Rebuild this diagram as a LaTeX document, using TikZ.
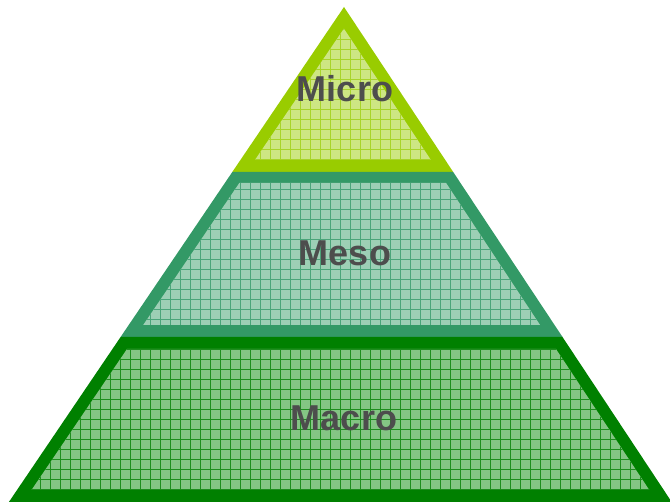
\documentclass[tikz,border=0pt]{standalone}
\usepackage{fontspec}
\setmainfont{Liberation Sans}
\definecolor{microB}{HTML}{99CC00}
\definecolor{microF}{HTML}{CDE683}
\definecolor{microG}{HTML}{A8D42A}
\definecolor{mesoB}{HTML}{339966}
\definecolor{mesoF}{HTML}{9DCFB5}
\definecolor{mesoG}{HTML}{4BA57A}
\definecolor{macroB}{HTML}{008000}
\definecolor{macroF}{HTML}{84C584}
\definecolor{macroG}{HTML}{1E8E1E}
\definecolor{txt}{HTML}{4D4D4D}
\tikzset{
  lbl/.style={font=\fontsize{36}{36}\selectfont\bfseries, text=txt, anchor=base, inner sep=0pt},
  gridline/.style={line width=1pt}
}
\newcommand{\gridlines}{%
  \foreach \gx in {0,10,...,670} {\draw[gridline] (\gx,0) -- (\gx,502);}
  \foreach \gy in {0,10,...,500} {\draw[gridline] (0,\gy) -- (670,\gy);}
}
\begin{document}
\begin{tikzpicture}[x=1pt,y=-1pt]
\useasboundingbox (0,0) rectangle (670,502);
\clip (0,0) rectangle (670,502);
% Micro
\fill[microB] (344,7) -- (453.2,172) -- (232.3,172) -- cycle;
\fill[microF] (343.9,28.6) -- (430.9,160) -- (254.9,160) -- cycle;
\begin{scope}[color=microG]
  \clip (343.9,28.6) -- (430.9,160) -- (254.9,160) -- cycle;
  \gridlines
\end{scope}
% Meso
\fill[mesoB] (232.3,172) -- (453.2,172) -- (562.5,337) -- (120.6,337) -- cycle;
\fill[mesoF] (239.3,183) -- (446.1,183) -- (540.1,325) -- (143.2,325) -- cycle;
\begin{scope}[color=mesoG]
  \clip (239.3,183) -- (446.1,183) -- (540.1,325) -- (143.2,325) -- cycle;
  \gridlines
\end{scope}
% Macro
\fill[macroB] (120.6,337) -- (562.5,337) -- (671.7,502) -- (8.9,502) -- cycle;
\fill[macroF] (127.0,349) -- (556.0,349) -- (649.3,490) -- (31.5,490) -- cycle;
\begin{scope}[color=macroG]
  \clip (127.0,349) -- (556.0,349) -- (649.3,490) -- (31.5,490) -- cycle;
  \gridlines
\end{scope}
% Labels
\node[lbl] (micro) at (345,102) {Micro};
\node[lbl] (meso) at (345,266) {Meso};
\node[lbl] (macro) at (344,431) {Macro};
\end{tikzpicture}
\end{document}
